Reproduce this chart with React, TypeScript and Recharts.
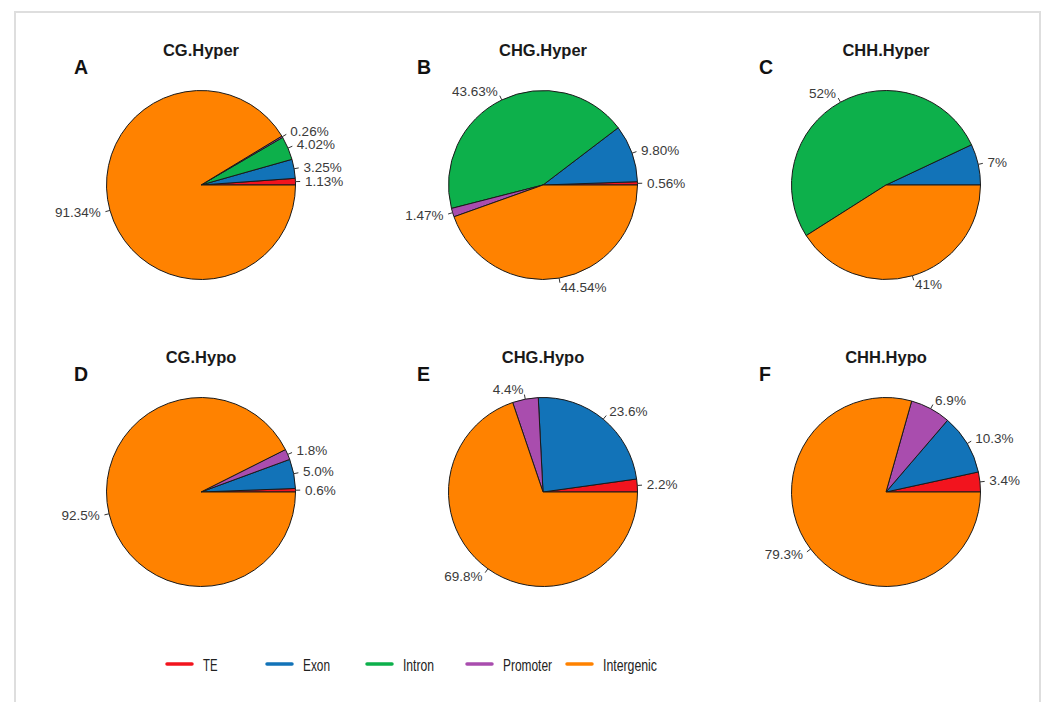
import React from 'react';
import { PieChart, Pie, Cell } from 'recharts';

// Genomic feature categories, in drawing order (counter-clockwise from 3 o'clock)
const categories = ['TE', 'Exon', 'Intron', 'Promoter', 'Intergenic'];
const categoryColors = ['#F2141E', '#1273B8', '#0DB04B', '#A94DAE', '#FF8200'];

const panelTitles = ['CG.Hyper', 'CHG.Hyper', 'CHH.Hyper', 'CG.Hypo', 'CHG.Hypo', 'CHH.Hypo'];
const panelLetters = ['A', 'B', 'C', 'D', 'E', 'F'];
const labelDecimals = [2, 2, 0, 1, 1, 1];

// Percent of DMRs per category: TE, Exon, Intron, Promoter, Intergenic
const cgHyper = [1.13, 3.25, 4.02, 0.26, 91.34];
const chgHyper = [0.56, 9.8, 43.63, 1.47, 44.54];
const chhHyper = [0, 7, 52, 0, 41];
const cgHypo = [0.6, 5.0, 0, 1.8, 92.5];
const chgHypo = [2.2, 23.6, 0, 4.4, 69.8];
const chhHypo = [3.4, 10.3, 0, 6.9, 79.3];

const panelValues = [cgHyper, chgHyper, chhHyper, cgHypo, chgHypo, chhHypo];

const W = 1047;
const H = 702;
const COL_X = [201, 543, 886];
const ROW_Y = [185, 492];
const RADIUS = 94.5;
const LETTER_X = [74, 417, 759];

const FONT = '"Liberation Sans", Arial, Helvetica, sans-serif';

const buildRows = (values: number[]) =>
  categories
    .map((name, i) => ({ name, value: values[i], color: categoryColors[i] }))
    .filter((r) => r.value > 0);

const makeLabel = (decimals: number) => (props: any) => {
  const { cx, cy, midAngle, outerRadius, value, index } = props;
  const rad = (-midAngle * Math.PI) / 180;
  const c = Math.cos(rad);
  const s = Math.sin(rad);
  const x0 = cx + outerRadius * c;
  const y0 = cy + outerRadius * s;
  const x1 = cx + outerRadius * 1.05 * c;
  const y1 = cy + outerRadius * 1.05 * s;
  const xt = cx + outerRadius * 1.1 * c;
  const yt = cy + outerRadius * 1.1 * s;
  return (
    <g key={`lbl-${index}`}>
      <line x1={x0} y1={y0} x2={x1} y2={y1} stroke="#333" strokeWidth={1} />
      <text
        x={xt}
        y={yt}
        textAnchor={c >= 0 ? 'start' : 'end'}
        dominantBaseline="central"
        fontFamily={FONT}
        fontSize={13.5}
        fill="#3a3a3a"
      >
        {`${Number(value).toFixed(decimals)}%`}
      </text>
    </g>
  );
};

const legendLineX = [167, 267, 367, 467, 567];
const legendTextWidths = [14.5, 27, 31, 49, 54];

export default function App() {
  return (
    <div
      style={{
        position: 'absolute',
        left: 0,
        top: 0,
        width: W,
        height: H,
        background: '#fff',
        overflow: 'hidden',
      }}
    >
      <div
        style={{
          position: 'absolute',
          left: 14,
          top: 11,
          width: 1027,
          height: 720,
          border: '2px solid #dedede',
          boxSizing: 'border-box',
        }}
      />
      <div style={{ position: 'absolute', left: 0, top: 0 }}>
        <PieChart width={W} height={H} margin={{ top: 0, right: 0, bottom: 0, left: 0 }}>
          {panelValues.map((vals, p) => {
            const rows = buildRows(vals);
            return (
              <Pie
                key={panelTitles[p]}
                data={rows}
                dataKey="value"
                nameKey="name"
                cx={COL_X[p % 3]}
                cy={ROW_Y[Math.floor(p / 3)]}
                innerRadius={0}
                outerRadius={RADIUS}
                startAngle={0}
                endAngle={360}
                stroke="#1a1a1a"
                strokeWidth={1}
                isAnimationActive={false}
                labelLine={false}
                label={makeLabel(labelDecimals[p])}
              >
                {rows.map((r) => (
                  <Cell key={r.name} fill={r.color} />
                ))}
              </Pie>
            );
          })}
        </PieChart>
      </div>
      <svg
        width={W}
        height={H}
        style={{ position: 'absolute', left: 0, top: 0, pointerEvents: 'none' }}
      >
        {panelTitles.map((t, p) => {
          const row = Math.floor(p / 3);
          const col = p % 3;
          const cy = ROW_Y[row];
          return (
            <g key={t}>
              <text
                x={COL_X[col]}
                y={cy - 129}
                textAnchor="middle"
                fontFamily={FONT}
                fontWeight="bold"
                fontSize={16.5}
                fill="#1a1a1a"
              >
                {t}
              </text>
              <text
                x={LETTER_X[col]}
                y={cy - 111}
                fontFamily={FONT}
                fontWeight="bold"
                fontSize={19.5}
                fill="#111"
              >
                {panelLetters[p]}
              </text>
            </g>
          );
        })}
        {categories.map((name, i) => (
          <g key={name}>
            <line
              x1={legendLineX[i]}
              y1={664}
              x2={legendLineX[i] + 25}
              y2={664}
              stroke={categoryColors[i]}
              strokeWidth={3.5}
              strokeLinecap="round"
            />
            <text
              x={legendLineX[i] + 36}
              y={670.5}
              fontFamily={FONT}
              fontSize={16}
              fill="#222"
              textLength={legendTextWidths[i]}
              lengthAdjust="spacingAndGlyphs"
            >
              {name}
            </text>
          </g>
        ))}
      </svg>
    </div>
  );
}
